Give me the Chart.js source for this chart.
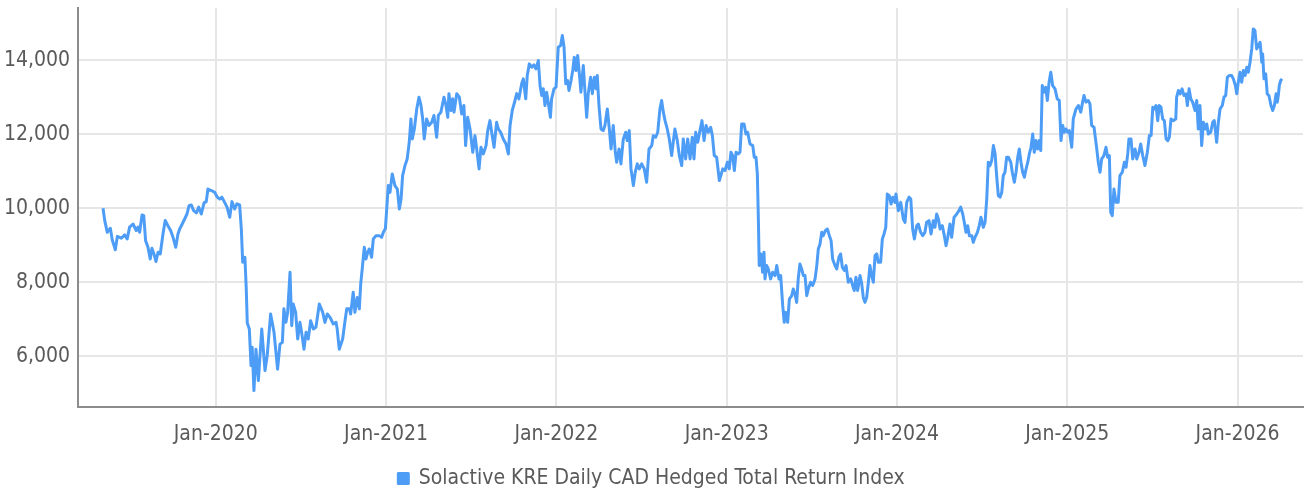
<!DOCTYPE html>
<html>
<head>
<meta charset="utf-8">
<script src="https://cdn.jsdelivr.net/npm/chart.js@4.4.1/dist/chart.umd.min.js"></script>
<style>
  html, body { margin: 0; padding: 0; background: #fff; }
  #wrap { width: 1304px; height: 493px; }
</style>
</head>
<body>
<div id="wrap"><canvas id="kreChart"></canvas></div>
<script>
// dates as fractional years
const dates = [
  2019.338, 2019.348, 2019.363, 2019.381, 2019.392, 2019.410, 2019.422, 2019.445, 2019.465, 2019.480,
  2019.494, 2019.514, 2019.533, 2019.543, 2019.553, 2019.567, 2019.577, 2019.588, 2019.602, 2019.615,
  2019.625, 2019.637, 2019.649, 2019.661, 2019.674, 2019.690, 2019.703, 2019.719, 2019.735, 2019.749,
  2019.765, 2019.778, 2019.788, 2019.803, 2019.817, 2019.831, 2019.843, 2019.856, 2019.870, 2019.886,
  2019.900, 2019.915, 2019.931, 2019.944, 2019.954, 2019.974, 2019.994, 2020.009, 2020.023, 2020.036,
  2020.052, 2020.066, 2020.082, 2020.095, 2020.111, 2020.124, 2020.140, 2020.150,
  2020.158, 2020.171, 2020.179, 2020.185, 2020.197, 2020.207, 2020.214, 2020.224, 2020.236, 2020.250,
  2020.270, 2020.289, 2020.302, 2020.322, 2020.342, 2020.363, 2020.377, 2020.391, 2020.400, 2020.412,
  2020.422, 2020.436, 2020.446, 2020.455, 2020.469, 2020.481, 2020.494, 2020.504, 2020.518, 2020.530,
  2020.543, 2020.557, 2020.573, 2020.588, 2020.608, 2020.628, 2020.641, 2020.655, 2020.671, 2020.690,
  2020.706, 2020.713, 2020.725, 2020.745, 2020.759, 2020.769, 2020.784, 2020.792, 2020.807, 2020.817,
  2020.831, 2020.843, 2020.851, 2020.860, 2020.872, 2020.882, 2020.892, 2020.901, 2020.915, 2020.925,
  2020.941, 2020.960, 2020.974, 2020.984, 2020.996,
  2021.013, 2021.023, 2021.036, 2021.052, 2021.066, 2021.078, 2021.088, 2021.097, 2021.111, 2021.124,
  2021.136, 2021.146, 2021.154, 2021.166, 2021.180, 2021.193, 2021.205, 2021.215, 2021.224, 2021.238,
  2021.252, 2021.268, 2021.281, 2021.297, 2021.307, 2021.322, 2021.340, 2021.352, 2021.362, 2021.369,
  2021.381, 2021.391, 2021.399, 2021.415, 2021.430, 2021.444, 2021.457, 2021.467, 2021.479, 2021.493,
  2021.509, 2021.522, 2021.532, 2021.546, 2021.557, 2021.571, 2021.587, 2021.597, 2021.610, 2021.620,
  2021.634, 2021.649, 2021.659, 2021.673, 2021.688, 2021.704, 2021.718, 2021.728, 2021.741, 2021.757,
  2021.767, 2021.780, 2021.796, 2021.806, 2021.820, 2021.829, 2021.841, 2021.855, 2021.868, 2021.880,
  2021.894, 2021.904, 2021.914, 2021.923, 2021.933, 2021.943, 2021.952,
  2021.965, 2021.972, 2021.986, 2021.998, 2022.011, 2022.025, 2022.035, 2022.045, 2022.055, 2022.066,
  2022.074, 2022.086, 2022.096, 2022.105, 2022.115, 2022.125, 2022.134, 2022.144, 2022.158, 2022.168,
  2022.178, 2022.187, 2022.201, 2022.211, 2022.223, 2022.233, 2022.240, 2022.250, 2022.262, 2022.275,
  2022.285, 2022.299, 2022.311, 2022.321, 2022.334, 2022.346, 2022.354, 2022.368, 2022.379, 2022.393,
  2022.407, 2022.416, 2022.428, 2022.438, 2022.452, 2022.463, 2022.475, 2022.487, 2022.501, 2022.516,
  2022.530, 2022.544, 2022.560, 2022.569, 2022.583, 2022.595, 2022.608, 2022.618, 2022.628, 2022.638,
  2022.651, 2022.663, 2022.677, 2022.686, 2022.696, 2022.710, 2022.722, 2022.736, 2022.745, 2022.759,
  2022.771, 2022.785, 2022.798, 2022.808, 2022.818, 2022.830, 2022.843, 2022.855, 2022.867, 2022.879,
  2022.892, 2022.906, 2022.916, 2022.927, 2022.941, 2022.957,
  2022.977, 2022.990, 2023.004, 2023.015, 2023.025, 2023.035, 2023.045, 2023.055, 2023.068, 2023.078,
  2023.088, 2023.102, 2023.113, 2023.123, 2023.137, 2023.153, 2023.162, 2023.172, 2023.180, 2023.186,
  2023.191, 2023.201, 2023.211, 2023.219, 2023.225, 2023.235, 2023.244, 2023.258, 2023.270, 2023.284,
  2023.294, 2023.307, 2023.317, 2023.329, 2023.338, 2023.348, 2023.358, 2023.368, 2023.382, 2023.391,
  2023.401, 2023.411, 2023.420, 2023.430, 2023.440, 2023.450, 2023.460, 2023.470, 2023.479, 2023.493,
  2023.505, 2023.519, 2023.529, 2023.538, 2023.548, 2023.558, 2023.567, 2023.579, 2023.591, 2023.603,
  2023.613, 2023.622, 2023.636, 2023.646, 2023.659, 2023.669, 2023.679, 2023.691, 2023.701, 2023.714,
  2023.728, 2023.740, 2023.749, 2023.759, 2023.769, 2023.783, 2023.793, 2023.802, 2023.812, 2023.822,
  2023.832, 2023.841, 2023.851, 2023.861, 2023.871, 2023.881, 2023.890, 2023.904, 2023.914, 2023.924,
  2023.934, 2023.943, 2023.955, 2023.965, 2023.975, 2023.988,
  2023.994, 2024.008, 2024.022, 2024.037, 2024.047, 2024.057, 2024.071, 2024.081, 2024.092, 2024.102,
  2024.116, 2024.125, 2024.139, 2024.151, 2024.164, 2024.174, 2024.188, 2024.200, 2024.213, 2024.223,
  2024.233, 2024.243, 2024.253, 2024.266, 2024.278, 2024.288, 2024.298, 2024.311, 2024.321, 2024.335,
  2024.351, 2024.364, 2024.374, 2024.386, 2024.395, 2024.405, 2024.415, 2024.425, 2024.439, 2024.448,
  2024.458, 2024.472, 2024.483, 2024.493, 2024.507, 2024.517, 2024.527, 2024.536, 2024.546, 2024.556,
  2024.566, 2024.576, 2024.585, 2024.595, 2024.605, 2024.615, 2024.624, 2024.634, 2024.644, 2024.654,
  2024.668, 2024.677, 2024.689, 2024.699, 2024.709, 2024.718, 2024.728, 2024.738, 2024.748, 2024.758,
  2024.768, 2024.777, 2024.787, 2024.797, 2024.806, 2024.816, 2024.826, 2024.836, 2024.844, 2024.853,
  2024.863, 2024.873, 2024.883, 2024.893, 2024.903, 2024.914, 2024.928, 2024.941, 2024.953, 2024.963,
  2024.973, 2024.982, 2024.992, 2025.002, 2025.012,
  2025.026, 2025.035, 2025.051, 2025.065, 2025.079, 2025.090, 2025.098, 2025.110, 2025.123, 2025.133,
  2025.143, 2025.157, 2025.173, 2025.182, 2025.192, 2025.202, 2025.215, 2025.227, 2025.237, 2025.247,
  2025.255, 2025.264, 2025.274, 2025.286, 2025.299, 2025.309, 2025.323, 2025.335, 2025.345, 2025.355,
  2025.362, 2025.374, 2025.384, 2025.398, 2025.408, 2025.421, 2025.431, 2025.443, 2025.456, 2025.470,
  2025.482, 2025.492, 2025.502, 2025.511, 2025.521, 2025.531, 2025.540, 2025.550, 2025.560, 2025.570,
  2025.580, 2025.590, 2025.599, 2025.609, 2025.622, 2025.637, 2025.642, 2025.652, 2025.662, 2025.674,
  2025.685, 2025.697, 2025.705, 2025.715, 2025.725, 2025.736, 2025.750, 2025.760, 2025.769, 2025.779,
  2025.789, 2025.799, 2025.809, 2025.819, 2025.828, 2025.842, 2025.854, 2025.863, 2025.877, 2025.887,
  2025.897, 2025.910, 2025.920, 2025.930, 2025.940, 2025.951, 2025.965, 2025.975, 2025.987, 2025.995,
  2026.004, 2026.014, 2026.024, 2026.034, 2026.044, 2026.054, 2026.063, 2026.073, 2026.083, 2026.092,
  2026.102, 2026.112, 2026.122, 2026.132, 2026.142, 2026.147, 2026.155, 2026.165, 2026.174, 2026.184,
  2026.196, 2026.206, 2026.216, 2026.226, 2026.233, 2026.239, 2026.245, 2026.253, 2026.261
];

const values = [
  10000, 9667, 9350, 9460, 9150, 8880, 9240, 9190, 9280, 9170,
  9490, 9575, 9400, 9490, 9350, 9820, 9800, 9125, 8945, 8630,
  8920, 8765, 8560, 8810, 8765, 9305, 9670, 9530, 9400, 9215,
  8945, 9305, 9440, 9575, 9710, 9845, 10070, 10090, 9935, 9875,
  10030, 9845, 10145, 10180, 10520, 10480, 10430, 10300, 10250, 10300,
  10160, 10030, 9755, 10180, 9980, 10120, 10090, 9440,
  8540, 8675, 7815, 6900, 6735, 5745, 6240, 5070, 6190, 5340,
  6735, 5610, 6015, 7140, 6645, 5650, 6325, 6375, 7280, 6915,
  7185, 8270, 6825, 7410, 7185, 6465, 6915, 6645, 6190, 6645,
  6465, 6960, 6735, 6780, 7410, 7185, 6915, 7140, 7050, 6870,
  6915, 6735, 6190, 6465, 6960, 7280, 7280, 7140, 7730, 7185,
  7590, 7280, 7955, 8360, 8945, 8630, 8810, 8900, 8675, 9170,
  9260, 9260, 9215, 9350, 9450,
  10615, 10430, 10930, 10615, 10520, 9980, 10250, 10885, 11155, 11335,
  11785, 12415, 11875, 12145, 12685, 13005, 12780, 12415, 11875, 12415,
  12240, 12325, 12510, 11920, 12510, 12600, 13005, 12780, 12460, 13100,
  12645, 12960, 12600, 13100, 13005, 12550, 12780, 11695, 12460, 12145,
  11515, 11965, 11605, 11065, 11650, 11470, 11695, 12100, 12370, 12055,
  11650, 12325, 12145, 12055, 11875, 11740, 11470, 12240, 12645, 12915,
  13100, 12960, 13365, 13500, 12960, 13590, 13905, 13815, 13880, 13770,
  13995, 13320, 13050, 13230, 12780, 13140, 12870,
  12460, 12960, 13230, 13275, 14355, 14400, 14670, 14355, 13365, 13455,
  13185, 13455, 13725, 14085, 13725, 14130, 13680, 13140, 13860, 13140,
  12460, 13100, 13545, 13100, 13545, 13230, 13590, 12780, 12145, 12100,
  12240, 12685, 12145, 11605, 12240, 11515, 11245, 11605, 11200, 11875,
  12055, 11830, 12100, 11065, 10615, 10975, 11200, 11065, 11200, 11065,
  10705, 11605, 11695, 11965, 11920, 12055, 12685, 12915, 12600, 12370,
  12145, 11875, 11425, 11785, 12145, 11830, 11425, 11155, 11875, 11335,
  11875, 11335, 11920, 11335, 12055, 11785, 12100, 12370, 11830, 12240,
  12055, 12190, 11965, 11425, 11380, 10750,
  11065, 11020, 11245, 11065, 11515, 11425, 11020, 11515, 11470, 11515,
  12280, 12280, 12010, 12055, 11740, 11695, 11380, 11380, 10930, 9710,
  8450, 8765, 8270, 8810, 8090, 8450, 8360, 8090, 8270, 8180,
  8450, 8090, 8180, 7365, 6915, 7185, 6915, 7545, 7635, 7815,
  7680, 7455, 8090, 8495, 8360, 8180, 8180, 7635, 7815, 8000,
  7910, 8090, 8450, 8900, 9035, 9350, 9260, 9395, 9440, 9260,
  9125, 8630, 8450, 8360, 8675, 8765, 8405, 8315, 8450, 8000,
  8090, 7910, 7775, 8135, 7775, 8180, 7955, 7590, 7455, 7590,
  8000, 8450, 8180, 8000, 8720, 8765, 8540, 8540, 9170, 9305,
  9485, 10385, 10340, 10115, 10300, 10160,
  10385, 9935, 10160, 9710, 9620, 10160, 10300, 10250, 9440, 9170,
  9530, 9575, 9350, 9260, 9350, 9620, 9665, 9305, 9665, 9485,
  9845, 9710, 9440, 9530, 9260, 8990, 9215, 9575, 9215, 9755,
  9845, 9935, 10030, 9845, 9620, 9350, 9530, 9260, 9260, 9080,
  9215, 9350, 9530, 9755, 9485, 9620, 10250, 11245, 11155, 11290,
  11695, 11470, 10885, 10340, 10300, 10430, 10885, 10975, 11380, 11380,
  11245, 10975, 10705, 10975, 11380, 11605, 11245, 10975, 10840, 11065,
  11245, 11470, 11650, 12010, 11515, 11830, 11605, 11830, 11560, 13320,
  13140, 13275, 12915, 13410, 13680, 13320, 13230, 12960, 12915, 11830,
  12240, 12055, 12145, 12055, 12100,
  11650, 12415, 12685, 12780, 12600, 12870, 13050, 12870, 12915, 12825,
  12240, 12190, 11605, 11245, 10975, 11335, 11425, 11650, 11380, 11425,
  9890, 9800, 10520, 10160, 10160, 10885, 10975, 11245, 11110, 11470,
  11875, 11875, 11335, 11605, 11335, 11515, 11740, 11425, 11155, 11515,
  11965, 11965, 12735, 12685, 12780, 12370, 12780, 12735, 12415, 12370,
  11875, 11830, 11920, 12415, 12370, 12415, 13005, 13185, 13095, 13230,
  13050, 13095, 12780, 13230, 12960, 12870, 12645, 12915, 12145, 12780,
  11695, 12325, 12145, 12280, 12010, 12055, 12325, 12370, 11785, 12325,
  12685, 12780, 13005, 13050, 13545, 13590, 13590, 13500, 13320, 13095,
  13410, 13680, 13410, 13725, 13590, 13815, 13680, 13950, 14310, 14850,
  14805, 14310, 14400, 14490, 13950, 14175, 13500, 13635, 13095, 13050,
  12780, 12645, 12780, 13095, 12870, 13050, 13320, 13455, 13500
];

const tickYears = [2020, 2021, 2022, 2023, 2024, 2025, 2026];
const yTicks = [6000, 8000, 10000, 12000, 14000];
const seriesName = 'Solactive KRE Daily CAD Hedged Total Return Index';

const FONT = "'DejaVu Sans Condensed', 'Liberation Sans Narrow', sans-serif";
const FONT_SIZE = 21;
const textColor = '#5a5a5a';
const gridColor = '#e6e6e6';
const axisColor = '#8c8c8c';
const lineColor = '#4d9df7';

new Chart(document.getElementById('kreChart'), {
  type: 'line',
  data: {
    datasets: [{
      label: seriesName,
      data: dates.map((d, i) => ({ x: d, y: values[i] })),
      borderColor: lineColor,
      backgroundColor: lineColor,
      borderWidth: 3,
      borderJoinStyle: 'round',
      pointRadius: 0,
      tension: 0
    }]
  },
  options: {
    responsive: true,
    maintainAspectRatio: false,
    animation: false,
    layout: { padding: { top: 8, right: 1, left: 0, bottom: -6 } },
    plugins: {
      tooltip: { enabled: false },
      legend: {
        position: 'bottom',
        labels: {
          boxWidth: 10,
          boxHeight: 10,
          padding: 0,
          color: textColor,
          font: { family: FONT, size: FONT_SIZE }
        }
      }
    },
    scales: {
      x: {
        type: 'linear',
        min: 2019.191,
        max: 2026.384,
        afterBuildTicks: s => { s.ticks = tickYears.map(v => ({ value: v })); },
        afterFit: s => { s.height = 61; s.paddingLeft = 0; s.paddingRight = 0; },
        ticks: {
          callback: v => 'Jan-' + v,
          color: textColor,
          font: { family: FONT, size: FONT_SIZE },
          padding: 15,
          maxRotation: 0,
          autoSkip: false
        },
        grid: { color: gridColor, lineWidth: 2, drawTicks: false },
        border: { color: axisColor, width: 2 }
      },
      y: {
        min: 4626,
        max: 15416,
        afterBuildTicks: s => { s.ticks = yTicks.map(v => ({ value: v })); },
        afterFit: s => { s.width = 78; s.paddingTop = 0; s.paddingBottom = 0; },
        ticks: {
          callback: v => v.toLocaleString('en-US'),
          color: textColor,
          font: { family: FONT, size: FONT_SIZE },
          padding: 8
        },
        grid: { color: gridColor, lineWidth: 2, drawTicks: false },
        border: { color: axisColor, width: 2 }
      }
    }
  }
});
</script>
</body>
</html>
